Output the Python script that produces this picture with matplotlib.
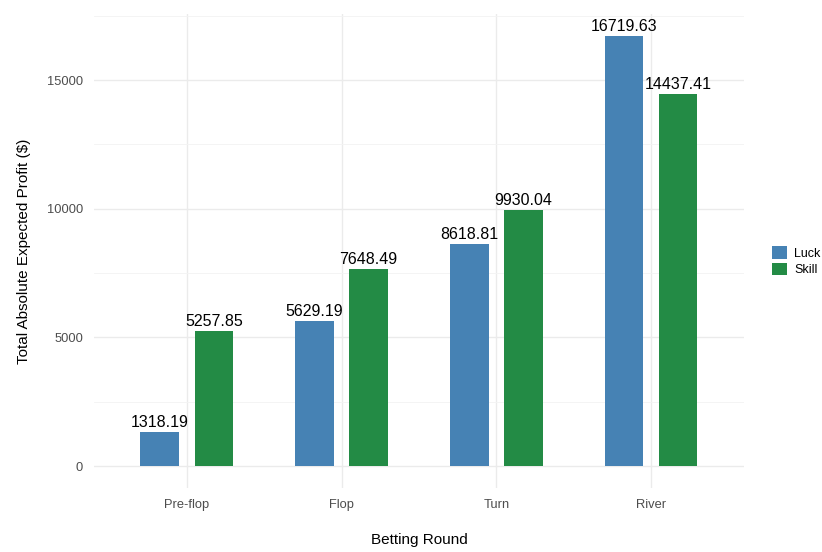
import numpy as np
import matplotlib
matplotlib.use("Agg")
import matplotlib.pyplot as plt
from matplotlib.ticker import MultipleLocator
from matplotlib.patches import Patch

rounds = ["Pre-flop", "Flop", "Turn", "River"]
luck = [1318.19, 5629.19, 8618.81, 16719.63]
skill = [5257.85, 7648.49, 9930.04, 14437.41]

plt.rcParams['font.family'] = ['Liberation Sans', 'DejaVu Sans']

fig = plt.figure(figsize=(8.22, 5.52), dpi=100)
ax = fig.add_axes([0.1144, 0.1168, 0.7906, 0.8574])

x = np.arange(1, len(rounds) + 1)
w = 0.25
off = 0.175
c_luck = "#4682B4"
c_skill = "#238B45"

ax.bar(x - off, luck, width=w, color=c_luck, zorder=3)
ax.bar(x + off, skill, width=w, color=c_skill, zorder=3)

for xi, v in zip(x - off, luck):
    ax.annotate(f"{v:.2f}", (xi, v), xytext=(0, 1.5), textcoords="offset points",
                ha="center", va="bottom", fontsize=11.5, color="black", zorder=4)
for xi, v in zip(x + off, skill):
    ax.annotate(f"{v:.2f}", (xi, v), xytext=(0, 1.5), textcoords="offset points",
                ha="center", va="bottom", fontsize=11.5, color="black", zorder=4)

top = max(max(luck), max(skill))
ax.set_ylim(-0.05 * top, 1.05 * top)
ax.set_xlim(0.4, 4.6)
ax.set_xticks(x)
ax.set_xticklabels(rounds)
ax.yaxis.set_major_locator(MultipleLocator(5000))
ax.yaxis.set_minor_locator(MultipleLocator(2500))

ax.grid(which="major", color="#EBEBEB", linewidth=1.0, zorder=0)
ax.grid(which="minor", axis="y", color="#F3F3F3", linewidth=0.6, zorder=0)
for s in ax.spines.values():
    s.set_visible(False)
ax.tick_params(which="both", length=0, labelsize=9.3, labelcolor="#4D4D4D")
ax.tick_params(axis="x", pad=8)
ax.tick_params(axis="y", pad=8)

ax.set_xlabel("Betting Round", fontsize=11, labelpad=16)
ax.set_ylabel("Total Absolute Expected Profit ($)", fontsize=11, labelpad=11.5)

handles = [Patch(facecolor=c_luck, label="Luck"), Patch(facecolor=c_skill, label="Skill")]
fig.legend(handles=handles, loc="center left", bbox_to_anchor=(0.925, 0.527),
           frameon=False, fontsize=9, handlelength=1.2, handleheight=1.2,
           handletextpad=0.6, labelspacing=0.25)

fig.savefig("out.png", dpi=100)
